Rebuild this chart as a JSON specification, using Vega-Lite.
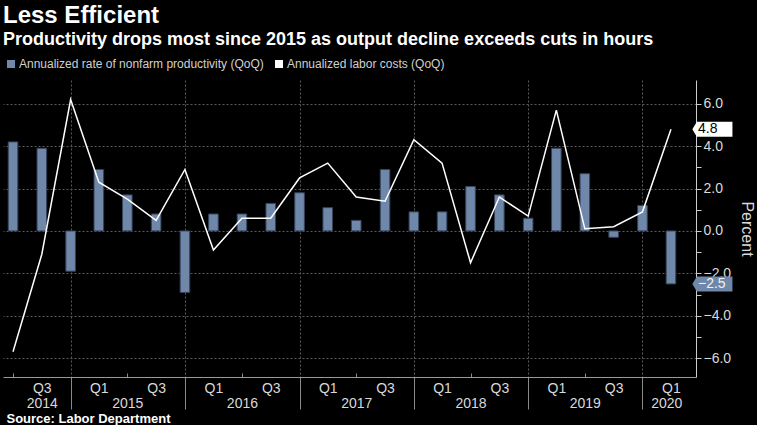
{
  "$schema": "https://vega.github.io/schema/vega-lite/v6.json",
  "width": 693,
  "height": 297,
  "autosize": "none",
  "padding": {"left": 3, "top": 80, "right": 61, "bottom": 48},
  "background": "#000000",
  "config": {"view": {"stroke": null}, "font": "Liberation Sans"},
  "title": {
    "text": "Less Efficient",
    "subtitle": "Productivity drops most since 2015 as output decline exceeds cuts in hours",
    "anchor": "start",
    "frame": "group",
    "font": "Liberation Sans",
    "fontSize": 24,
    "fontWeight": "bold",
    "color": "#ffffff",
    "subtitleFont": "Liberation Sans",
    "subtitleFontSize": 18,
    "subtitleFontWeight": "bold",
    "subtitleColor": "#ffffff",
    "subtitlePadding": 3,
    "offset": 9
  },
  "data": {
    "values": [
      {"quarter": "2014 Q2", "date": "2014-06-30", "productivity": 4.2, "labor_costs": -5.7},
      {"quarter": "2014 Q3", "date": "2014-09-30", "productivity": 3.9, "labor_costs": -1.1},
      {"quarter": "2014 Q4", "date": "2014-12-31", "productivity": -1.9, "labor_costs": 6.2},
      {"quarter": "2015 Q1", "date": "2015-03-31", "productivity": 2.9, "labor_costs": 2.3},
      {"quarter": "2015 Q2", "date": "2015-06-30", "productivity": 1.7, "labor_costs": 1.5},
      {"quarter": "2015 Q3", "date": "2015-09-30", "productivity": 0.8, "labor_costs": 0.5},
      {"quarter": "2015 Q4", "date": "2015-12-31", "productivity": -2.9, "labor_costs": 2.9},
      {"quarter": "2016 Q1", "date": "2016-03-31", "productivity": 0.8, "labor_costs": -0.9},
      {"quarter": "2016 Q2", "date": "2016-06-30", "productivity": 0.8, "labor_costs": 0.6},
      {"quarter": "2016 Q3", "date": "2016-09-30", "productivity": 1.3, "labor_costs": 0.6},
      {"quarter": "2016 Q4", "date": "2016-12-31", "productivity": 1.8, "labor_costs": 2.5},
      {"quarter": "2017 Q1", "date": "2017-03-31", "productivity": 1.1, "labor_costs": 3.2},
      {"quarter": "2017 Q2", "date": "2017-06-30", "productivity": 0.5, "labor_costs": 1.6},
      {"quarter": "2017 Q3", "date": "2017-09-30", "productivity": 2.9, "labor_costs": 1.4},
      {"quarter": "2017 Q4", "date": "2017-12-31", "productivity": 0.9, "labor_costs": 4.3},
      {"quarter": "2018 Q1", "date": "2018-03-31", "productivity": 0.9, "labor_costs": 3.2},
      {"quarter": "2018 Q2", "date": "2018-06-30", "productivity": 2.1, "labor_costs": -1.5},
      {"quarter": "2018 Q3", "date": "2018-09-30", "productivity": 1.7, "labor_costs": 1.6},
      {"quarter": "2018 Q4", "date": "2018-12-31", "productivity": 0.6, "labor_costs": 0.7},
      {"quarter": "2019 Q1", "date": "2019-03-31", "productivity": 3.9, "labor_costs": 5.7},
      {"quarter": "2019 Q2", "date": "2019-06-30", "productivity": 2.7, "labor_costs": 0.1},
      {"quarter": "2019 Q3", "date": "2019-09-30", "productivity": -0.3, "labor_costs": 0.2},
      {"quarter": "2019 Q4", "date": "2019-12-31", "productivity": 1.2, "labor_costs": 0.9},
      {"quarter": "2020 Q1", "date": "2020-03-31", "productivity": -2.5, "labor_costs": 4.8}
    ]
  },
  "layer": [
    {
      "mark": {"type": "bar", "width": 9.6, "stroke": "#34425a", "strokeWidth": 1},
      "encoding": {
        "x": {
          "field": "date",
          "type": "temporal",
          "scale": {
            "type": "utc",
            "domain": [
              {"year": 2014, "month": 6, "date": 14, "utc": true},
              {"year": 2020, "month": 6, "date": 3, "utc": true}
            ]
          },
          "axis": {
            "orient": "bottom",
            "values": [
              {"year": 2014, "month": 6, "date": 30, "utc": true},
              {"year": 2014, "month": 9, "date": 30, "utc": true},
              {"year": 2014, "month": 12, "date": 31, "utc": true},
              {"year": 2015, "month": 3, "date": 31, "utc": true},
              {"year": 2015, "month": 6, "date": 30, "utc": true},
              {"year": 2015, "month": 9, "date": 30, "utc": true},
              {"year": 2015, "month": 12, "date": 31, "utc": true},
              {"year": 2016, "month": 3, "date": 31, "utc": true},
              {"year": 2016, "month": 6, "date": 30, "utc": true},
              {"year": 2016, "month": 9, "date": 30, "utc": true},
              {"year": 2016, "month": 12, "date": 31, "utc": true},
              {"year": 2017, "month": 3, "date": 31, "utc": true},
              {"year": 2017, "month": 6, "date": 30, "utc": true},
              {"year": 2017, "month": 9, "date": 30, "utc": true},
              {"year": 2017, "month": 12, "date": 31, "utc": true},
              {"year": 2018, "month": 3, "date": 31, "utc": true},
              {"year": 2018, "month": 6, "date": 30, "utc": true},
              {"year": 2018, "month": 9, "date": 30, "utc": true},
              {"year": 2018, "month": 12, "date": 31, "utc": true},
              {"year": 2019, "month": 3, "date": 31, "utc": true},
              {"year": 2019, "month": 6, "date": 30, "utc": true},
              {"year": 2019, "month": 9, "date": 30, "utc": true},
              {"year": 2019, "month": 12, "date": 31, "utc": true},
              {"year": 2020, "month": 3, "date": 31, "utc": true}
            ],
            "labelExpr": "utcmonth(datum.value) == 2 ? 'Q1' : (utcmonth(datum.value) == 8 ? 'Q3' : '')",
            "labelOverlap": false,
            "labelFlush": false,
            "labelBound": false,
            "labelFontSize": 14,
            "labelColor": "#d9d9d9",
            "labelPadding": 4,
            "ticks": true,
            "tickColor": "#8a8a8a",
            "tickSize": {
              "condition": [
                {"test": "utcmonth(datum.value) == 11", "value": 32},
                {"test": "utcmonth(datum.value) == 5", "value": -4}
              ],
              "value": 0
            },
            "grid": true,
            "gridColor": "#5a5a5a",
            "gridDash": [2, 2],
            "gridOpacity": {
              "condition": {"test": "utcmonth(datum.value) == 11", "value": 1},
              "value": 0
            },
            "domain": true,
            "domainColor": "#9a9a9a",
            "title": "Source: Labor Department",
            "titleFont": "Liberation Sans",
            "titleFontSize": 13,
            "titleFontWeight": "bold",
            "titleColor": "#ffffff",
            "titleAnchor": "start",
            "titleAlign": "left",
            "titleBaseline": "middle",
            "titleX": 3,
            "titleY": 41
          }
        },
        "y": {
          "field": "productivity",
          "type": "quantitative",
          "scale": {"domain": [-6.89, 7.12], "nice": false, "zero": false},
          "axis": {
            "orient": "right",
            "values": [-6, -5, -4, -3, -2, -1, 0, 1, 2, 3, 4, 5, 6],
            "labelExpr": "datum.value % 2 == 0 ? format(datum.value, '.1f') : ''",
            "labelFontSize": 14,
            "labelColor": "#d9d9d9",
            "labelPadding": 2,
            "labelFlush": false,
            "labelOverlap": false,
            "tickSize": 5,
            "tickColor": "#cccccc",
            "domainColor": "#cccccc",
            "grid": true,
            "gridColor": "#5a5a5a",
            "gridDash": [2, 2],
            "gridOpacity": {
              "condition": {"test": "datum.value % 2 != 0", "value": 0},
              "value": 1
            },
            "title": "Percent",
            "titleFontSize": 16,
            "titleFontWeight": "normal",
            "titleColor": "#d9d9d9",
            "titlePadding": 8
          }
        },
        "color": {
          "datum": "Annualized rate of nonfarm productivity (QoQ)",
          "scale": {
            "domain": ["Annualized rate of nonfarm productivity (QoQ)", "Annualized labor costs (QoQ)"],
            "range": ["#6f88aa", "#ffffff"]
          },
          "legend": {
            "orient": "none",
            "legendX": 2,
            "legendY": -22,
            "direction": "horizontal",
            "symbolType": "square",
            "symbolSize": 64,
            "symbolStrokeWidth": 0,
            "labelFontSize": 12,
            "labelColor": "#d0d0d0",
            "labelLimit": 400,
            "labelOffset": 2,
            "columnPadding": 9,
            "padding": 0,
            "title": null
          }
        }
      }
    },
    {
      "mark": {"type": "line", "strokeWidth": 1.5},
      "encoding": {
        "x": {
          "field": "date",
          "type": "temporal",
          "axis": {
            "orient": "bottom",
            "values": [
              {"year": 2014, "month": 9, "date": 30, "utc": true},
              {"year": 2015, "month": 6, "date": 30, "utc": true},
              {"year": 2016, "month": 6, "date": 30, "utc": true},
              {"year": 2017, "month": 6, "date": 30, "utc": true},
              {"year": 2018, "month": 6, "date": 30, "utc": true},
              {"year": 2019, "month": 6, "date": 30, "utc": true},
              {"year": 2020, "month": 3, "date": 16, "utc": true}
            ],
            "labelExpr": "utcFormat(datum.value, '%Y')",
            "labelOverlap": false,
            "labelFlush": false,
            "labelBound": false,
            "labelFontSize": 14,
            "labelColor": "#d9d9d9",
            "labelPadding": 19,
            "ticks": false,
            "grid": false,
            "domain": false,
            "title": null
          }
        },
        "y": {"field": "labor_costs", "type": "quantitative", "axis": null},
        "color": {"datum": "Annualized labor costs (QoQ)", "legend": null}
      }
    },
    {
      "transform": [{"filter": "datum.quarter == '2020 Q1'"}],
      "mark": {"type": "point", "shape": "M2.85,0L3.45,-1L8.2,-1L8.2,1L3.45,1Z", "size": 225, "filled": true, "color": "#ffffff", "opacity": 1, "strokeWidth": 0},
      "encoding": {
        "x": {"field": "date", "type": "temporal", "axis": null},
        "y": {"field": "labor_costs", "type": "quantitative", "axis": null}
      }
    },
    {
      "transform": [{"filter": "datum.quarter == '2020 Q1'"}],
      "mark": {"type": "text", "align": "left", "baseline": "middle", "dx": 27, "fontSize": 14, "color": "#000000"},
      "encoding": {
        "x": {"field": "date", "type": "temporal", "axis": null},
        "y": {"field": "labor_costs", "type": "quantitative", "axis": null},
        "text": {"field": "labor_costs", "type": "quantitative", "format": ".1f"}
      }
    },
    {
      "transform": [{"filter": "datum.quarter == '2020 Q1'"}],
      "mark": {"type": "point", "shape": "M2.85,0L3.45,-1L8.2,-1L8.2,1L3.45,1Z", "size": 225, "filled": true, "color": "#6f88aa", "opacity": 1, "strokeWidth": 0},
      "encoding": {
        "x": {"field": "date", "type": "temporal", "axis": null},
        "y": {"field": "productivity", "type": "quantitative", "axis": null}
      }
    },
    {
      "transform": [{"filter": "datum.quarter == '2020 Q1'"}],
      "mark": {"type": "text", "align": "left", "baseline": "middle", "dx": 27, "fontSize": 14, "color": "#f0f0f0"},
      "encoding": {
        "x": {"field": "date", "type": "temporal", "axis": null},
        "y": {"field": "productivity", "type": "quantitative", "axis": null},
        "text": {"field": "productivity", "type": "quantitative", "format": ".1f"}
      }
    }
  ],
  "resolve": {"axis": {"x": "independent", "y": "independent"}}
}
